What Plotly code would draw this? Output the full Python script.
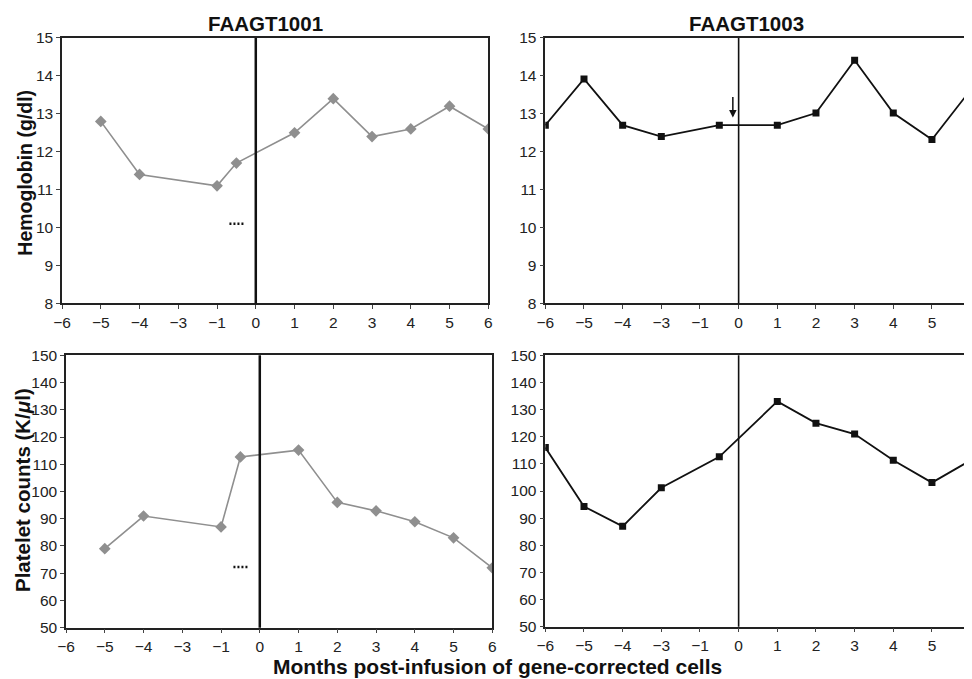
import plotly.graph_objects as go

# ---------------- data ----------------
tick_months = [-6, -5, -4, -3, -1, 0, 1, 2, 3, 4, 5, 6]
tick_labels = ["\u22126", "\u22125", "\u22124", "\u22123", "\u22121", "0", "1", "2", "3", "4", "5", "6"]

p1_months = [-5, -4, -1, -0.5, 1, 2, 3, 4, 5, 6]
p1_hb = [12.8, 11.4, 11.1, 11.7, 12.5, 13.4, 12.4, 12.6, 13.2, 12.6]
p1_plt = [79, 91, 87, 112.7, 115.2, 96, 92.9, 88.9, 83, 72]

p3_months = [-6, -5, -4, -3, -0.5, 1, 2, 3, 4, 5, 6]
p3_hb = [12.7, 13.92, 12.7, 12.4, 12.7, 12.7, 13.02, 14.41, 13.02, 12.32, 13.63]
p3_plt = [116, 94.3, 87, 101.2, 112.6, 133, 125, 121, 111.3, 103.1, 111.3]

p1_hb_dots_months = [-0.68, -0.27]
p1_hb_dots = [10.1, 10.1]
p1_plt_dots_months = [-0.68, -0.27]
p1_plt_dots = [72.3, 72.3]

arrow_month = -0.15
arrow_hb = 12.9

titles = ["FAAGT1001", "FAAGT1003"]


def pos(m):
    # axis skips the -2 month: months <= -3 shift one slot right
    return m + 1 if m <= -3 else m


def P(lst):
    return [pos(m) for m in lst]


tick_pos = P(tick_months)

GRAY = "#8f8f8f"
BLACK = "#111111"
FONT = "Liberation Sans, Arial, sans-serif"
TXT = "#222222"

W, H = 972, 679
# compensation for how the page is photographed
OX, SX = 18.0, 0.986
OY, SY = 16.0, 0.977


def fx(px):
    return ((px - OX) / SX) / W


def fy(py):
    return 1 - ((py - OY) / SY) / H


fig = go.Figure()

# top-left
fig.add_trace(go.Scatter(x=P(p1_months), y=p1_hb, mode="lines+markers", xaxis="x", yaxis="y",
                         line=dict(color=GRAY, width=1.6),
                         marker=dict(symbol="diamond", size=9, color=GRAY), showlegend=False))
fig.add_trace(go.Scatter(x=P(p1_hb_dots_months), y=p1_hb_dots, mode="lines", xaxis="x", yaxis="y",
                         line=dict(color=BLACK, width=2.5, dash="2px,2px"), showlegend=False))
# top-right
fig.add_trace(go.Scatter(x=P(p3_months), y=p3_hb, mode="lines+markers", xaxis="x2", yaxis="y2",
                         line=dict(color=BLACK, width=1.8),
                         marker=dict(symbol="square", size=7, color=BLACK), showlegend=False))
# bottom-left
fig.add_trace(go.Scatter(x=P(p1_months), y=p1_plt, mode="lines+markers", xaxis="x3", yaxis="y3",
                         line=dict(color=GRAY, width=1.6),
                         marker=dict(symbol="diamond", size=9, color=GRAY), showlegend=False))
fig.add_trace(go.Scatter(x=P(p1_plt_dots_months), y=p1_plt_dots, mode="lines", xaxis="x3", yaxis="y3",
                         line=dict(color=BLACK, width=2.5, dash="2px,2px"), showlegend=False))
# bottom-right
fig.add_trace(go.Scatter(x=P(p3_months), y=p3_plt, mode="lines+markers", xaxis="x4", yaxis="y4",
                         line=dict(color=BLACK, width=1.8),
                         marker=dict(symbol="square", size=7, color=BLACK), showlegend=False))

xdom = {
    "x": [fx(63), fx(489)],
    "x2": [fx(546), fx(971)],
    "x3": [fx(67), fx(493)],
    "x4": [fx(546), fx(971)],
}
ydom = {
    "y": [fy(303), fy(37)],
    "y2": [fy(303), fy(37)],
    "y3": [fy(628), fy(355)],
    "y4": [fy(627), fy(355)],
}

tickfont = dict(family=FONT, size=15.5, color=TXT)

layout = dict(
    width=W, height=H,
    margin=dict(l=0, r=0, t=0, b=0),
    paper_bgcolor="white", plot_bgcolor="white",
    font=dict(family=FONT, color=TXT),
    showlegend=False,
)

for i, (xa, ya) in enumerate([("x", "y"), ("x2", "y2"), ("x3", "y3"), ("x4", "y4")]):
    xk = "xaxis" if xa == "x" else "xaxis" + xa[1:]
    yk = "yaxis" if ya == "y" else "yaxis" + ya[1:]
    layout[xk] = dict(domain=xdom[xa], anchor=ya, range=[pos(-6), 6],
                      tickvals=tick_pos, ticktext=tick_labels, tickfont=tickfont,
                      showgrid=False, zeroline=False, showline=True, linecolor="#222", linewidth=1.5,
                      mirror=True, ticks="outside", ticklen=4, tickcolor="#444", tickwidth=1)
    if i < 2:
        yr, dt = [8, 15], 1
    else:
        yr, dt = [50, 150], 10
    layout[yk] = dict(domain=ydom[ya], anchor=xa, range=yr, dtick=dt, tickfont=tickfont,
                      showgrid=False, zeroline=False, showline=True, linecolor="#222", linewidth=1.5,
                      mirror=True, ticks="outside", ticklen=4, tickcolor="#444", tickwidth=1)

fig.update_layout(**layout)

# vertical infusion lines at month 0
for xa, ya, w in [("x", "y", 2.5), ("x2", "y2", 1.6), ("x3", "y3", 2.5), ("x4", "y4", 1.6)]:
    fig.add_shape(type="line", xref=xa, yref=ya + " domain", x0=pos(0), x1=pos(0), y0=0, y1=1,
                  line=dict(color=BLACK, width=w))

# titles
fig.add_annotation(text="<b>" + titles[0] + "</b>", xref="paper", yref="paper", x=fx(266), y=fy(23),
                   showarrow=False, font=dict(family=FONT, size=20.5, color="#111"), xanchor="center", yanchor="middle")
fig.add_annotation(text="<b>" + titles[1] + "</b>", xref="paper", yref="paper", x=fx(747), y=fy(23),
                   showarrow=False, font=dict(family=FONT, size=20.5, color="#111"), xanchor="center", yanchor="middle")

# y titles
fig.add_annotation(text="<b>Hemoglobin (g/dl)</b>", xref="paper", yref="paper", x=fx(26), y=fy(172),
                   textangle=-90, showarrow=False, font=dict(family=FONT, size=19.5, color="#111"),
                   xanchor="center", yanchor="middle")
fig.add_annotation(text="<b>Platelet counts (K/<i>\u03bc</i>l)</b>", xref="paper", yref="paper", x=fx(23),
                   y=fy(490), textangle=-90, showarrow=False, font=dict(family=FONT, size=20.5, color="#111"),
                   xanchor="center", yanchor="middle")
# x title
fig.add_annotation(text="<b>Months post-infusion of gene-corrected cells</b>", xref="paper", yref="paper",
                   x=fx(498), y=fy(667), showarrow=False, font=dict(family=FONT, size=21, color="#111"),
                   xanchor="center", yanchor="middle")

# arrow in FAAGT1003 hemoglobin panel
fig.add_annotation(x=pos(arrow_month), y=arrow_hb, xref="x2", yref="y2", ax=0, ay=-22, text="",
                   showarrow=True, arrowhead=2, arrowsize=1, arrowwidth=1.5, arrowcolor=BLACK)

fig.write_html("out.html")
